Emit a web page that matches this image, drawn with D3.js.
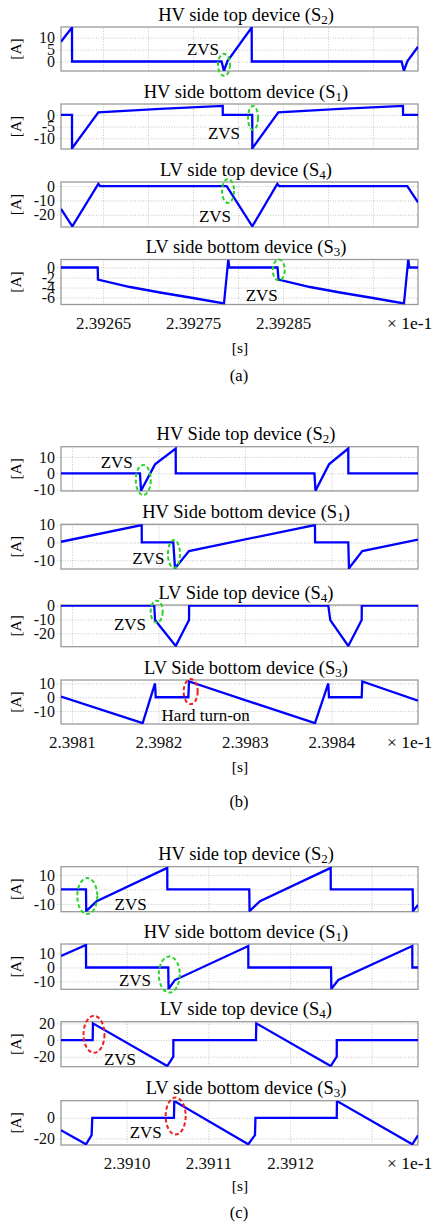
<!DOCTYPE html>
<html>
<head>
<meta charset="utf-8">
<script src="https://cdn.jsdelivr.net/npm/d3@7"></script>
<style>
    body { margin: 0; background: #fff; }
    svg { display: block; font-family: "Liberation Serif", "Times New Roman", serif; }
</style>
</head>
<body>
<svg id="chart" width="433" height="1228"></svg>
<script>
// time in units of 1e-1 s, current in A

// (a)
const timesA_S2 = [2.3926033, 2.3926155, 2.3926156, 2.3927817, 2.3927844, 2.3927883, 2.3928152, 2.3928153, 2.3929817, 2.3929844, 2.3929883, 2.393];
const currentA_S2 = [8.3, 14.3, 0, 0, -3.9, 0.2, 14.3, 0, 0, -3.9, 0.2, 6.2];
const timesA_S1 = [2.3926033, 2.3926155, 2.3926156, 2.3926448, 2.3927133, 2.392783, 2.3927831, 2.3928158, 2.3928159, 2.3928448, 2.3929133, 2.3929833, 2.3929834, 2.393];
const currentA_S1 = [0, 0, -14.3, 1.1, 2.6, 3.9, 0, 0, -14.3, 1.1, 2.6, 3.9, 0, 0];
const timesA_S4 = [2.3926033, 2.3926159, 2.3926448, 2.3926467, 2.3927874, 2.3928159, 2.3928437, 2.3928456, 2.3929881, 2.393];
const currentA_S4 = [-15.9, -28, 1.5, 0, 0, -28, 1.5, 0, 0, -11.3];
const timesA_S3 = [2.3926033, 2.3926441, 2.3926444, 2.39268, 2.3927133, 2.3927467, 2.3927689, 2.3927844, 2.3927892, 2.3927903,
                   2.3928439, 2.392845, 2.39288, 2.3929133, 2.3929467, 2.3929689, 2.3929844, 2.3929892, 2.3929903, 2.393];
const currentA_S3 = [0, 0, -2.4, -3.9, -5.0, -6.0, -6.7, -7.2, 1.6, 0, 0, -2.4, -3.9, -5.0, -6.0, -6.7, -7.2, 1.6, 0, 0];

// (b)
const timesB_S2 = [2.3980873, 2.3981786, 2.3981798, 2.398196, 2.3982199, 2.39822, 2.3983803, 2.3983815, 2.3983971, 2.3984194, 2.3984195, 2.3985];
const currentB_S2 = [0, 0, -10.6, 5.5, 15.2, 0, 0, -10.6, 5.5, 15.2, 0, 0];
const timesB_S1 = [2.3980873, 2.3981806, 2.3981807, 2.3982171, 2.3982191, 2.3982353, 2.3983809, 2.398381, 2.3984194, 2.3984202, 2.3984356, 2.3985];
const currentB_S1 = [0.4, 9.8, 0, 0, -14.5, -4.8, 9.8, 0, 0, -14.5, -4.8, 1.6];
const timesB_S4 = [2.3980873, 2.3981951, 2.398196, 2.3982199, 2.3982353, 2.3982354, 2.3983963, 2.3983986, 2.3984194, 2.3984349, 2.398435, 2.3985];
const currentB_S4 = [0, 0, -10.4, -29.2, -10.4, 0, 0, -10.4, -29.2, -10.4, 0, 0];
const timesB_S3 = [2.3980873, 2.3981817, 2.398196, 2.3981968, 2.3982345, 2.3982353, 2.3983809, 2.3983963, 2.3983971, 2.3984349, 2.3984356, 2.3985];
const currentB_S3 = [0.5, -18.8, 10, 0, 0, 11.4, -18.8, 10, 0, 0, 11.4, -2.5];

// (c)
const timesC_S2 = [2.3909196, 2.3909502, 2.3909505, 2.3909633, 2.3910497, 2.3910498, 2.3911501, 2.3911505, 2.3911632, 2.3912498, 2.3912499, 2.3913502, 2.3913506, 2.3913567];
const currentC_S2 = [0, 0, -15, -8.1, 14.9, 0, 0, -15, -8.1, 14.9, 0, 0, -15, -10.8];
const timesC_S1 = [2.3909196, 2.3909502, 2.3909503, 2.3910509, 2.3910513, 2.3910591, 2.3911489, 2.391149, 2.3912502, 2.3912506, 2.3912591, 2.3913497, 2.3913498, 2.3913567];
const currentC_S1 = [8.3, 16.3, 0, 0, -15.5, -9.1, 15.6, 0, 0, -15.5, -9.1, 15.6, 0, 0];
const timesC_S4 = [2.3909196, 2.3909584, 2.3909587, 2.3910497, 2.3910571, 2.3910572, 2.3911583, 2.3911587, 2.3912498, 2.3912572, 2.3912573, 2.3913567];
const currentC_S4 = [0, 0, 20, -31.2, -20, 0, 0, 20, -31.2, -20, 0, 0];
const timesC_S3 = [2.3909196, 2.3909502, 2.3909571, 2.3909579, 2.3910579, 2.3910583, 2.3911489, 2.3911571, 2.3911577, 2.3912572, 2.3912575, 2.3913497, 2.3913567];
const currentC_S3 = [-12, -25.8, -16.8, 0, 0, 16.3, -25.8, -16.8, 0, 0, 16.3, -25.8, -17];

// axis ticks
const gridA = [2.39265, 2.3927, 2.39275, 2.3928, 2.39285, 2.3929, 2.39295];
const labelsA = [2.39265, 2.39275, 2.39285];
const gridB = [2.3981, 2.3982, 2.3983, 2.3984];
const labelsB = [2.3981, 2.3982, 2.3983, 2.3984];
const gridC = [2.391, 2.3911, 2.3912, 2.3913];
const labelsC = [2.391, 2.3911, 2.3912];

const GREEN = '#2bd42b';
const RED = '#ee2020';
const BLUE = '#0000ff';

const plotLeft = 61;
const plotRight = 418;

let panels = [
    {
        name: '(a)', xDomain: [2.3926033, 2.393], grid: gridA, labels: labelsA, digits: 5,
        tickY: 328.5, unitY: 353, nameY: 381,
        plots: [
            { title: 'HV side top device', sub: '2', top: 27, bottom: 71, yDomain: [-4, 14.5], yTicks: [0, 5, 10],
              times: timesA_S2, current: currentA_S2,
              ring: { t: 2.3927844, v: -1.4, rx: 6, ry: 11, color: GREEN }, note: { t: 2.3927611, v: 5.1, text: 'ZVS' } },
            { title: 'HV side bottom device', sub: '1', top: 104, bottom: 149, yDomain: [-14.6, 4.7], yTicks: [-10, -5, 0],
              times: timesA_S1, current: currentA_S1,
              ring: { t: 2.3928167, v: -1.3, rx: 5, ry: 12, color: GREEN }, note: { t: 2.3927844, v: -7.7, text: 'ZVS' } },
            { title: 'LV side top device', sub: '4', top: 182, bottom: 227, yDomain: [-28.5, 2.8], yTicks: [-20, -10, 0],
              times: timesA_S4, current: currentA_S4,
              ring: { t: 2.3927889, v: -3.4, rx: 6, ry: 12, color: GREEN }, note: { t: 2.3927744, v: -20.7, text: 'ZVS' } },
            { title: 'LV side bottom device', sub: '3', top: 259.5, bottom: 304.5, yDomain: [-7.4, 1.6], yTicks: [-6, -4, -2, 0],
              times: timesA_S3, current: currentA_S3,
              ring: { t: 2.3928453, v: -0.5, rx: 6, ry: 10.5, color: GREEN }, note: { t: 2.3928264, v: -5.5, text: 'ZVS' } }
        ]
    },
    {
        name: '(b)', xDomain: [2.3980873, 2.3985], grid: gridB, labels: labelsB, digits: 4,
        tickY: 748, unitY: 772, nameY: 807,
        plots: [
            { title: 'HV Side top device', sub: '2', top: 446.7, bottom: 491, yDomain: [-10.8, 16.3], yTicks: [-10, 0, 10],
              times: timesB_S2, current: currentB_S2,
              ring: { t: 2.3981824, v: -4.1, rx: 7.5, ry: 15, color: GREEN }, note: { t: 2.3981517, v: 6.7, text: 'ZVS' } },
            { title: 'HV Side bottom device', sub: '1', top: 524.3, bottom: 569, yDomain: [-14.9, 10.2], yTicks: [-10, 0, 10],
              times: timesB_S1, current: currentB_S1,
              ring: { t: 2.3982179, v: -6.5, rx: 6, ry: 14, color: GREEN }, note: { t: 2.3981882, v: -8.5, text: 'ZVS' } },
            { title: 'LV Side top device', sub: '4', top: 605, bottom: 646.7, yDomain: [-29.7, 0.5], yTicks: [-20, -10, 0],
              times: timesB_S4, current: currentB_S4,
              ring: { t: 2.3981979, v: -4.3, rx: 6, ry: 11, color: GREEN }, note: { t: 2.3981671, v: -13.3, text: 'ZVS' } },
            { title: 'LV Side bottom device', sub: '3', top: 680, bottom: 724, yDomain: [-19.4, 12.5], yTicks: [-10, 0, 10],
              times: timesB_S3, current: currentB_S3,
              ring: { t: 2.3982372, v: 4.1, rx: 7, ry: 12.5, color: RED }, note: { t: 2.3982546, v: -12.8, text: 'Hard turn-on' } }
        ]
    },
    {
        name: '(c)', xDomain: [2.3909196, 2.3913567], grid: gridC, labels: labelsC, digits: 4,
        tickY: 1169, unitY: 1191, nameY: 1218,
        plots: [
            { title: 'HV side top device', sub: '2', top: 866.7, bottom: 911.7, yDomain: [-15.4, 15.7], yTicks: [-10, 0, 10],
              times: timesC_S2, current: currentC_S2,
              ring: { t: 2.3909518, v: -4.6, rx: 10, ry: 18, color: GREEN }, note: { t: 2.3910049, v: -10.3, text: 'ZVS' } },
            { title: 'HV side bottom device', sub: '1', top: 944, bottom: 989.3, yDomain: [-15.8, 17], yTicks: [-10, 0, 10],
              times: timesC_S1, current: currentC_S1,
              ring: { t: 2.3910522, v: -5.1, rx: 10.5, ry: 18, color: GREEN }, note: { t: 2.3910102, v: -9.1, text: 'ZVS' } },
            { title: 'LV side top device', sub: '4', top: 1021.7, bottom: 1066.7, yDomain: [-32, 22], yTicks: [-20, 0, 20],
              times: timesC_S4, current: currentC_S4,
              ring: { t: 2.39096, v: 6.8, rx: 10.5, ry: 18.5, color: RED }, note: { t: 2.3909918, v: -23.2, text: 'ZVS' } },
            { title: 'LV side bottom device', sub: '3', top: 1100.7, bottom: 1145, yDomain: [-26.5, 16.7], yTicks: [-20, 0],
              times: timesC_S3, current: currentC_S3,
              ring: { t: 2.39106, v: 1.7, rx: 10, ry: 18.5, color: RED }, note: { t: 2.3910233, v: -14.2, text: 'ZVS' } }
        ]
    }
];

let svg = d3.select('#chart');
let clipId = 0;

function drawPlot(panel, plot, isLast) {
    let x = d3.scaleLinear().domain(panel.xDomain).range([plotLeft, plotRight]);
    let y = d3.scaleLinear().domain(plot.yDomain).range([plot.bottom, plot.top]);
    let height = plot.bottom - plot.top;
    let width = plotRight - plotLeft;

    // dotted grid from the axes' tick lines
    let xGrid = svg.append('g')
        .attr('transform', `translate(0,${plot.bottom})`)
        .call(d3.axisBottom(x).tickValues(panel.grid).tickSize(-height).tickFormat(''));
    let yGrid = svg.append('g')
        .attr('transform', `translate(${plotLeft},0)`)
        .call(d3.axisLeft(y).tickValues(plot.yTicks).tickSize(-width).tickPadding(6).tickFormat(d => String(d)));
    [xGrid, yGrid].forEach(g => {
        g.select('.domain').remove();
        g.selectAll('line')
            .attr('stroke', '#b8b8b8')
            .attr('stroke-width', 0.8)
            .attr('stroke-dasharray', '1,1.6');
    });
    yGrid.selectAll('line').attr('x1', -4);
    yGrid.attr('font-family', null).attr('font-size', 16)
        .selectAll('text').attr('fill', '#111');

    svg.append('rect')
        .attr('x', plotLeft).attr('y', plot.top)
        .attr('width', width).attr('height', height)
        .attr('fill', 'none')
        .attr('stroke', '#9a9a9a')
        .attr('stroke-width', 1.3);

    let id = `clip${clipId++}`;
    svg.append('clipPath').attr('id', id)
        .append('rect')
        .attr('x', plotLeft).attr('y', plot.top)
        .attr('width', width).attr('height', height);

    let line = d3.line()
        .x(d => x(d[0]))
        .y(d => y(d[1]));

    svg.append('path')
        .datum(d3.zip(plot.times, plot.current))
        .attr('clip-path', `url(#${id})`)
        .attr('d', line)
        .attr('fill', 'none')
        .attr('stroke', BLUE)
        .attr('stroke-width', 2.3)
        .attr('stroke-linejoin', 'miter');

    // title with subscript
    let title = svg.append('text')
        .attr('x', 246)
        .attr('y', plot.top - 6.5)
        .attr('text-anchor', 'middle')
        .attr('font-size', 18.5)
        .text(`${plot.title} (S`);
    title.append('tspan').attr('font-size', 13).attr('dy', 3).text(plot.sub);
    title.append('tspan').attr('dy', -3).text(')');

    svg.append('text')
        .attr('transform', `translate(15.5,${(plot.top + plot.bottom) / 2}) rotate(-90)`)
        .attr('text-anchor', 'middle')
        .attr('dy', '0.35em')
        .attr('font-size', 15.5)
        .text('[A]');

    svg.append('ellipse')
        .attr('cx', x(plot.ring.t))
        .attr('cy', y(plot.ring.v))
        .attr('rx', plot.ring.rx)
        .attr('ry', plot.ring.ry)
        .attr('fill', 'none')
        .attr('stroke', plot.ring.color)
        .attr('stroke-width', 2)
        .attr('stroke-dasharray', '4,2.5');

    svg.append('text')
        .attr('x', x(plot.note.t))
        .attr('y', y(plot.note.v))
        .attr('dy', '0.35em')
        .attr('text-anchor', 'middle')
        .attr('font-size', 17)
        .text(plot.note.text);

    if (isLast) {
        let xLabels = svg.append('g')
            .attr('transform', `translate(0,${plot.bottom})`)
            .call(d3.axisBottom(x).tickValues(panel.labels).tickSize(0).tickPadding(0)
                .tickFormat(d => d.toFixed(panel.digits)));
        xLabels.select('.domain').remove();
        xLabels.attr('font-family', null).attr('font-size', 17);
        xLabels.selectAll('text')
            .attr('y', panel.tickY - plot.bottom)
            .attr('dy', null)
            .attr('fill', '#111');
    }
}

panels.forEach(panel => {
    panel.plots.forEach((plot, i) => drawPlot(panel, plot, i === panel.plots.length - 1));

    svg.append('text')
        .attr('x', 387).attr('y', panel.tickY)
        .attr('font-size', 17.5)
        .text('\u00d7 1e-1');

    svg.append('text')
        .attr('x', 240).attr('y', panel.unitY)
        .attr('text-anchor', 'middle')
        .attr('font-size', 15.5)
        .text('[s]');

    svg.append('text')
        .attr('x', 239).attr('y', panel.nameY)
        .attr('text-anchor', 'middle')
        .attr('font-size', 16.5)
        .text(panel.name);
});
</script>
</body>
</html>
